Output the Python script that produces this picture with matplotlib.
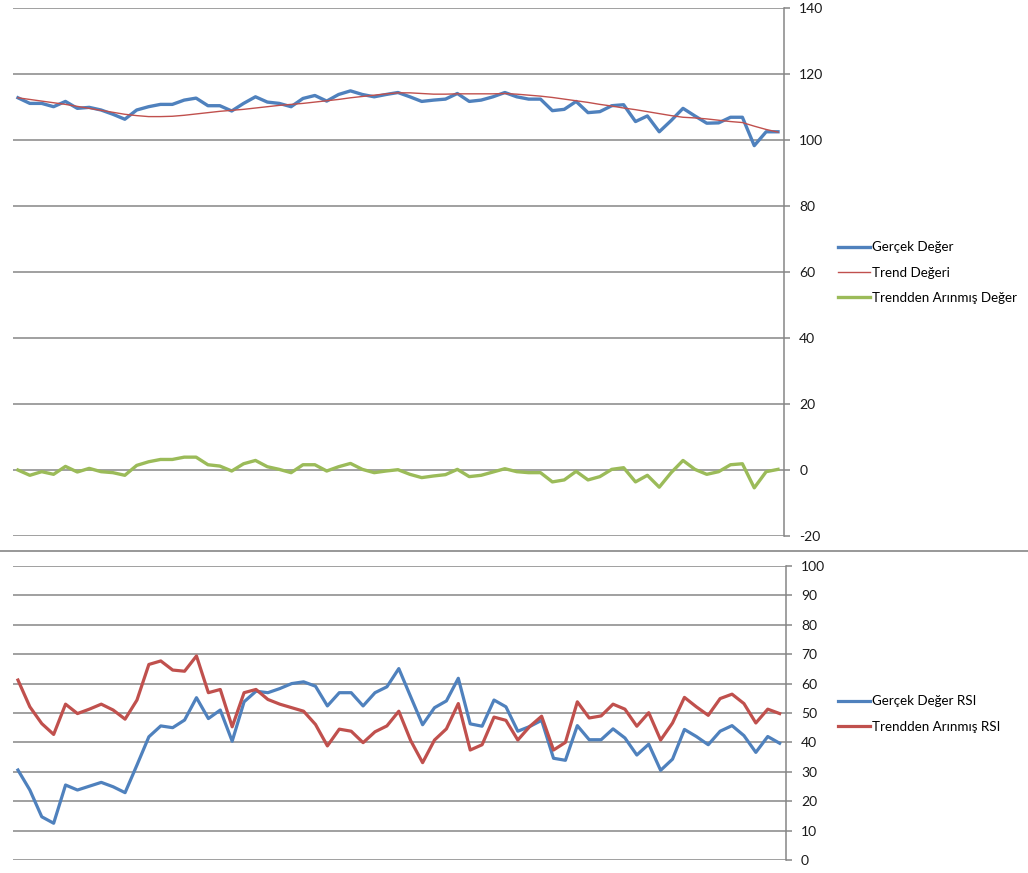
import numpy as np
import matplotlib
matplotlib.use('Agg')
import matplotlib.pyplot as plt
from matplotlib.lines import Line2D

plt.rcParams['font.family'] = ['Lato', 'DejaVu Sans']
plt.rcParams['axes.unicode_minus'] = False

# ust grafik: gercek deger, trend ve trendden arindirilmis seri
gercek = [112.8, 111.1, 111.1, 110.1, 111.7, 109.6, 109.9, 109.1, 107.8, 106.3,
          109.1, 110.1, 110.8, 110.8, 112.1, 112.7, 110.4, 110.4, 108.8, 111.1,
          113.1, 111.5, 111.1, 110.1, 112.6, 113.5, 111.8, 113.8, 114.9, 113.8,
          113.1, 113.8, 114.4, 113.1, 111.7, 112.1, 112.4, 114.1, 111.7, 112.1,
          113.1, 114.4, 113.1, 112.4, 112.4, 108.9, 109.3, 111.7, 108.3, 108.6,
          110.4, 110.7, 105.6, 107.3, 102.5, 105.9, 109.6, 107.3, 105.1, 105.2,
          106.9, 106.9, 98.3, 102.5, 102.5]

trend = [112.8, 112.3, 111.8, 111.3, 110.8, 110.2, 109.6, 109.0, 108.4, 107.8,
         107.4, 107.1, 107.1, 107.2, 107.5, 107.9, 108.3, 108.7, 109.0, 109.3,
         109.7, 110.1, 110.5, 110.8, 111.1, 111.5, 111.9, 112.3, 112.8, 113.2,
         113.6, 114.0, 114.3, 114.3, 114.1, 113.9, 113.9, 114.0, 114.0, 114.0,
         114.0, 114.1, 113.9, 113.6, 113.3, 112.9, 112.4, 111.9, 111.4, 110.8,
         110.3, 109.7, 109.2, 108.6, 108.0, 107.4, 106.9, 106.7, 106.4, 106.0,
         105.6, 105.3, 104.2, 103.2, 102.4]

arinmis = [0.0, -1.6, -0.5, -1.3, 1.1, -0.6, 0.5, -0.5, -0.8, -1.6,
           1.4, 2.5, 3.2, 3.2, 3.9, 3.9, 1.6, 1.2, -0.3, 1.9,
           2.9, 1.0, 0.2, -0.8, 1.6, 1.6, -0.3, 1.0, 2.0, 0.2,
           -0.8, -0.3, 0.1, -1.3, -2.3, -1.8, -1.4, 0.2, -2.0, -1.6,
           -0.6, 0.4, -0.5, -0.8, -0.8, -3.6, -3.0, -0.4, -3.0, -2.0,
           0.2, 0.7, -3.6, -1.6, -5.2, -0.8, 2.9, 0.2, -1.3, -0.5,
           1.6, 1.9, -5.4, -0.5, 0.2]

# alt grafik: RSI degerleri
gercek_rsi = [30.6, 23.8, 14.7, 12.5, 25.5, 23.8, 25.1, 26.4, 24.9, 22.9,
              32.3, 41.9, 45.6, 45.0, 47.6, 55.2, 48.1, 51.0, 40.4, 53.8,
              57.4, 56.9, 58.3, 60.0, 60.6, 59.1, 52.4, 56.9, 56.9, 52.4,
              56.9, 58.9, 65.1, 55.5, 46.0, 51.8, 54.1, 61.8, 46.3, 45.5,
              54.4, 52.1, 43.8, 45.4, 47.5, 34.6, 33.9, 45.7, 40.9, 40.9,
              44.6, 41.5, 35.7, 39.4, 30.5, 34.3, 44.4, 42.0, 39.2, 43.8,
              45.7, 42.3, 36.6, 42.0, 39.7]

arinmis_rsi = [61.2, 52.1, 46.4, 42.7, 53.0, 49.8, 51.3, 53.0, 51.0, 47.9,
               54.4, 66.5, 67.7, 64.6, 64.2, 69.4, 56.9, 58.0, 45.3, 56.9,
               58.0, 54.6, 53.0, 51.8, 50.6, 46.1, 38.8, 44.5, 43.8, 39.9,
               43.6, 45.6, 50.6, 40.6, 33.1, 40.8, 44.6, 53.2, 37.4, 39.2,
               48.6, 47.5, 40.8, 45.4, 48.9, 37.4, 40.0, 53.8, 48.3, 49.0,
               53.0, 51.3, 45.5, 50.1, 40.8, 46.6, 55.3, 52.1, 49.2, 54.9,
               56.4, 53.2, 46.6, 51.3, 49.8]

mavi = '#4f81bd'
kirmizi = '#c0504d'
yesil = '#9bbb59'
gri = '#868686'

x = np.arange(len(gercek))

fig = plt.figure(figsize=(10.28, 8.73), dpi=100)
ax1 = fig.add_axes([0.0126, 0.386, 0.75, 0.6048])
ax2 = fig.add_axes([0.0126, 0.0149, 0.7516, 0.3368])

for ax in (ax1, ax2):
    ax.yaxis.tick_right()
    for s in ['left', 'top', 'bottom']:
        ax.spines[s].set_visible(False)
    ax.spines['right'].set_color(gri)
    ax.spines['right'].set_linewidth(1.1)
    ax.tick_params(axis='y', direction='out', length=4, width=1.1, color=gri,
                   pad=7, labelsize=10, labelcolor='#1a1a1a')
    ax.set_xticks([])
    ax.grid(axis='y', color=gri, lw=1.1)
    ax.set_axisbelow(True)
    ax.set_xlim(-0.42, 64.5)

ax1.plot(x, gercek, color=mavi, lw=2.4, label='Gerçek Değer')
ax1.plot(x, trend, color=kirmizi, lw=1.0, label='Trend Değeri')
ax1.plot(x, arinmis, color=yesil, lw=2.4, label='Trendden Arınmış Değer')
ax1.set_ylim(-20, 140)
ax1.set_yticks(range(-20, 141, 20))

ax2.plot(x, gercek_rsi, color=mavi, lw=2.3, label='Gerçek Değer RSI')
ax2.plot(x, arinmis_rsi, color=kirmizi, lw=2.3, label='Trendden Arınmış RSI')
ax2.set_ylim(0, 100)
ax2.set_yticks(range(0, 101, 10))

for ax, yc in ((ax1, 0.6876), (ax2, 0.1821)):
    ax.legend(loc='center left', bbox_to_anchor=(0.8149, yc),
              bbox_transform=fig.transFigure, frameon=False, fontsize=9.6,
              handlelength=2.4, handletextpad=0.15, labelspacing=1.0,
              borderpad=0, borderaxespad=0)

# iki grafik arasindaki ayirici cizgi
fig.add_artist(Line2D([0, 1], [0.3688, 0.3688], color=gri, lw=1.2))

fig.savefig('out.png', dpi=100, facecolor='white')
